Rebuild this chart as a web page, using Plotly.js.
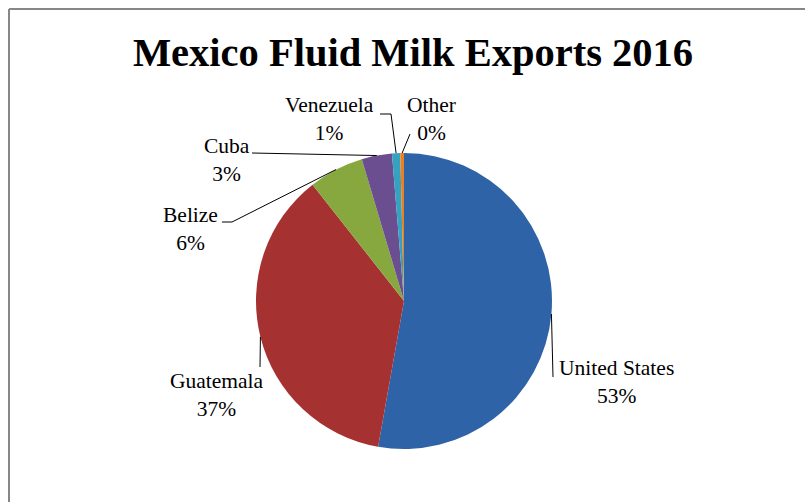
<!DOCTYPE html>
<html>
<head>
<meta charset="utf-8">
<script src="https://cdn.plot.ly/plotly-3.0.1.min.js"></script>
<style>html,body{margin:0;padding:0;background:#fff;}#chart{width:805px;height:502px;}</style>
</head>
<body>
<div id="chart"></div>
<script>
// Data
const categories = ["United States", "Guatemala", "Belize", "Cuba", "Venezuela", "Other"];
const shares = [52.8, 36.6, 6.0, 3.3, 0.9, 0.4];
const pctLabels = ["53%", "37%", "6%", "3%", "1%", "0%"];
const colors = ["#2F63A8", "#A53131", "#86A83E", "#6A4E8F", "#35A2C1", "#EC7F1E"];

// Layout geometry (pixels)
const W = 805, H = 502;
const CX = 404, CY = 301, R = 148;
const px = v => v / W;
const py = v => 1 - v / H;

// label block centers (pixels)
const labelPos = [[616, 382], [217, 395], [190, 229], [227, 160], [329, 119], [431, 119]];
// leader line extra points (pixels), from label side, ending at the slice edge
const leaderPts = [
  [[553, 377]],
  [[260, 367]],
  [[222, 222], [232, 222]],
  [[252, 153]],
  [[380, 114], [391, 114]],
  [[410, 134]]
];

// slice mid-angle edge points from data
const total = shares.reduce((a, b) => a + b, 0);
let cum = 0;
const edge = shares.map(v => {
  const mid = (cum + v / 2) / total * 2 * Math.PI;
  cum += v;
  return [CX + R * Math.sin(mid), CY - R * Math.cos(mid)];
});

const shapes = [];
leaderPts.forEach((pts, i) => {
  const all = pts.concat([edge[i]]);
  for (let k = 0; k < all.length - 1; k++) {
    shapes.push({type: 'line', xref: 'paper', yref: 'paper',
      x0: px(all[k][0]), y0: py(all[k][1]), x1: px(all[k + 1][0]), y1: py(all[k + 1][1]),
      line: {color: '#000', width: 1}});
  }
});
// chart border (top and left visible)
shapes.push({type: 'line', xref: 'paper', yref: 'paper', x0: px(9), y0: py(9), x1: px(830), y1: py(9), line: {color: '#878787', width: 2}});
shapes.push({type: 'line', xref: 'paper', yref: 'paper', x0: px(9), y0: py(9), x1: px(9), y1: py(530), line: {color: '#878787', width: 2}});

const annotations = categories.map((c, i) => ({
  xref: 'paper', yref: 'paper', x: px(labelPos[i][0]), y: py(labelPos[i][1]),
  xanchor: 'center', yanchor: 'middle', showarrow: false, align: 'center',
  text: c + '<br>' + pctLabels[i],
  font: {family: 'Liberation Serif, Times New Roman, serif', size: 21.5, color: '#000'}
}));

const trace = {
  type: 'pie', values: shares, labels: categories, sort: false, direction: 'clockwise', rotation: 0,
  marker: {colors: colors, line: {width: 0}},
  textinfo: 'none', hoverinfo: 'label+percent', showlegend: false,
  domain: {x: [px(CX - R), px(CX + R)], y: [py(CY + R), py(CY - R)]}
};

const layout = {
  width: W, height: H, margin: {l: 0, r: 0, t: 0, b: 0},
  paper_bgcolor: '#fff', plot_bgcolor: '#fff',
  title: {text: '<b>Mexico Fluid Milk Exports 2016</b>', x: px(413), xanchor: 'center', y: py(52), yanchor: 'middle',
    font: {family: 'Liberation Serif, Times New Roman, serif', size: 40.5, color: '#000'}},
  shapes: shapes, annotations: annotations
};

Plotly.newPlot('chart', [trace], layout, {displayModeBar: false, staticPlot: true});
</script>
</body>
</html>
